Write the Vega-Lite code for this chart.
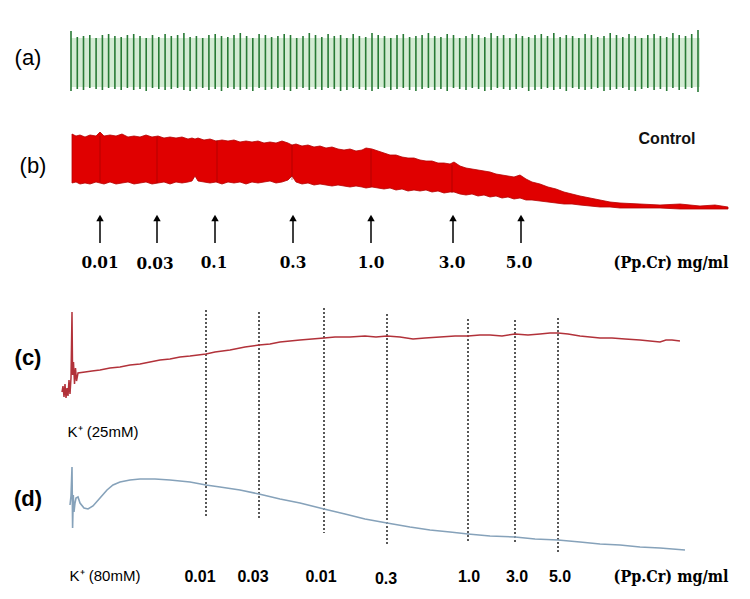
{
"$schema":"https://vega.github.io/schema/vega-lite/v6.json",
"width":750,"height":599,
"autosize":{"type":"fit","contains":"padding"},
"padding":0,
"background":"white",
"config":{"view":{"stroke":null}},
"datasets":{
"abg":[{"t":71,"t2":700,"hi":38,"lo":87}],
"a":[
{"t":71.0,"hi":31,"lo":91},{"t":77.3,"hi":37,"lo":89},{"t":83.5,"hi":36,"lo":90},{"t":89.8,"hi":35,"lo":88},{"t":96.1,"hi":38,"lo":89},{"t":102.4,"hi":35,"lo":90},{"t":108.6,"hi":34,"lo":88},{"t":114.9,"hi":36,"lo":89},{"t":121.2,"hi":37,"lo":90},{"t":127.4,"hi":35,"lo":88},{"t":133.7,"hi":34,"lo":90},{"t":140.0,"hi":36,"lo":89},{"t":146.2,"hi":38,"lo":91},{"t":152.5,"hi":35,"lo":88},{"t":158.8,"hi":37,"lo":89},{"t":165.1,"hi":34,"lo":90},{"t":171.3,"hi":36,"lo":89},{"t":177.6,"hi":35,"lo":88},{"t":183.9,"hi":33,"lo":90},{"t":190.1,"hi":37,"lo":91},{"t":196.4,"hi":36,"lo":89},{"t":202.7,"hi":38,"lo":88},{"t":208.9,"hi":35,"lo":90},{"t":215.2,"hi":34,"lo":89},{"t":221.5,"hi":36,"lo":91},{"t":227.8,"hi":37,"lo":88},{"t":234.0,"hi":35,"lo":89},{"t":240.3,"hi":33,"lo":90},{"t":246.6,"hi":36,"lo":89},{"t":252.8,"hi":38,"lo":91},{"t":259.1,"hi":34,"lo":88},{"t":265.4,"hi":35,"lo":90},{"t":271.6,"hi":37,"lo":89},{"t":277.9,"hi":36,"lo":88},{"t":284.2,"hi":34,"lo":90},{"t":290.5,"hi":35,"lo":91},{"t":296.7,"hi":38,"lo":89},{"t":303.0,"hi":36,"lo":88},{"t":309.3,"hi":33,"lo":90},{"t":315.5,"hi":35,"lo":89},{"t":321.8,"hi":37,"lo":90},{"t":328.1,"hi":34,"lo":88},{"t":334.3,"hi":36,"lo":89},{"t":340.6,"hi":35,"lo":91},{"t":346.9,"hi":38,"lo":90},{"t":353.2,"hi":34,"lo":88},{"t":359.4,"hi":36,"lo":89},{"t":365.7,"hi":37,"lo":90},{"t":372.0,"hi":33,"lo":91},{"t":378.2,"hi":35,"lo":89},{"t":384.5,"hi":36,"lo":88},{"t":390.8,"hi":38,"lo":90},{"t":397.0,"hi":35,"lo":89},{"t":403.3,"hi":34,"lo":88},{"t":409.6,"hi":37,"lo":90},{"t":415.9,"hi":36,"lo":91},{"t":422.1,"hi":35,"lo":89},{"t":428.4,"hi":33,"lo":88},{"t":434.7,"hi":36,"lo":90},{"t":440.9,"hi":37,"lo":89},{"t":447.2,"hi":34,"lo":91},{"t":453.5,"hi":35,"lo":88},{"t":459.7,"hi":38,"lo":89},{"t":466.0,"hi":36,"lo":90},{"t":472.3,"hi":34,"lo":88},{"t":478.6,"hi":35,"lo":89},{"t":484.8,"hi":37,"lo":91},{"t":491.1,"hi":33,"lo":90},{"t":497.4,"hi":36,"lo":88},{"t":503.6,"hi":35,"lo":89},{"t":509.9,"hi":38,"lo":90},{"t":516.2,"hi":34,"lo":89},{"t":522.4,"hi":36,"lo":88},{"t":528.7,"hi":37,"lo":91},{"t":535.0,"hi":35,"lo":90},{"t":541.3,"hi":34,"lo":89},{"t":547.5,"hi":36,"lo":88},{"t":553.8,"hi":33,"lo":90},{"t":560.1,"hi":37,"lo":89},{"t":566.3,"hi":35,"lo":91},{"t":572.6,"hi":36,"lo":88},{"t":578.9,"hi":38,"lo":89},{"t":585.1,"hi":34,"lo":90},{"t":591.4,"hi":35,"lo":89},{"t":597.7,"hi":37,"lo":88},{"t":604.0,"hi":36,"lo":91},{"t":610.2,"hi":33,"lo":90},{"t":616.5,"hi":35,"lo":89},{"t":622.8,"hi":37,"lo":88},{"t":629.0,"hi":34,"lo":90},{"t":635.3,"hi":36,"lo":91},{"t":641.6,"hi":38,"lo":89},{"t":647.8,"hi":35,"lo":88},{"t":654.1,"hi":34,"lo":90},{"t":660.4,"hi":36,"lo":89},{"t":666.7,"hi":37,"lo":91},{"t":672.9,"hi":33,"lo":88},{"t":679.2,"hi":35,"lo":90},{"t":685.5,"hi":36,"lo":89},{"t":691.7,"hi":34,"lo":88},{"t":698.0,"hi":30,"lo":92}
],
"b":[
{"t":72,"top":134,"bot":183},{"t":76,"top":136,"bot":182},{"t":80,"top":135,"bot":184},{"t":85,"top":137,"bot":183},{"t":90,"top":135,"bot":184},{"t":96,"top":136,"bot":182},{"t":100,"top":132,"bot":183},{"t":104,"top":136,"bot":184},{"t":110,"top":135,"bot":182},{"t":116,"top":136,"bot":184},{"t":122,"top":134,"bot":183},{"t":128,"top":137,"bot":182},{"t":134,"top":136,"bot":184},{"t":140,"top":137,"bot":183},{"t":146,"top":135,"bot":182},{"t":152,"top":137,"bot":184},{"t":158,"top":136,"bot":183},{"t":164,"top":138,"bot":182},{"t":170,"top":137,"bot":184},{"t":176,"top":138,"bot":182},{"t":182,"top":137,"bot":183},{"t":188,"top":139,"bot":182},{"t":192,"top":138,"bot":181},{"t":195,"top":139,"bot":176},{"t":198,"top":138,"bot":181},{"t":204,"top":140,"bot":182},{"t":210,"top":139,"bot":183},{"t":216,"top":141,"bot":182},{"t":222,"top":140,"bot":184},{"t":228,"top":141,"bot":182},{"t":234,"top":140,"bot":183},{"t":240,"top":142,"bot":182},{"t":246,"top":141,"bot":184},{"t":252,"top":142,"bot":182},{"t":258,"top":141,"bot":183},{"t":264,"top":143,"bot":182},{"t":270,"top":142,"bot":181},{"t":276,"top":143,"bot":183},{"t":282,"top":141,"bot":182},{"t":288,"top":143,"bot":180},{"t":292,"top":145,"bot":176},{"t":296,"top":144,"bot":182},{"t":302,"top":146,"bot":184},{"t":308,"top":145,"bot":183},{"t":314,"top":147,"bot":185},{"t":320,"top":146,"bot":184},{"t":326,"top":148,"bot":185},{"t":332,"top":147,"bot":186},{"t":338,"top":149,"bot":185},{"t":344,"top":150,"bot":186},{"t":350,"top":149,"bot":187},{"t":356,"top":151,"bot":186},{"t":362,"top":150,"bot":187},{"t":366,"top":148,"bot":188},{"t":372,"top":149,"bot":187},{"t":378,"top":151,"bot":188},{"t":384,"top":153,"bot":189},{"t":390,"top":155,"bot":188},{"t":396,"top":155,"bot":190},{"t":402,"top":157,"bot":189},{"t":408,"top":158,"bot":191},{"t":414,"top":158,"bot":190},{"t":420,"top":160,"bot":191},{"t":426,"top":161,"bot":190},{"t":432,"top":161,"bot":192},{"t":438,"top":163,"bot":191},{"t":444,"top":163,"bot":193},{"t":450,"top":164,"bot":192},{"t":454,"top":162,"bot":192},{"t":460,"top":166,"bot":194},{"t":466,"top":168,"bot":195},{"t":472,"top":169,"bot":194},{"t":478,"top":170,"bot":196},{"t":484,"top":171,"bot":195},{"t":490,"top":172,"bot":197},{"t":496,"top":174,"bot":196},{"t":502,"top":175,"bot":198},{"t":508,"top":176,"bot":197},{"t":514,"top":177,"bot":199},{"t":520,"top":175,"bot":198},{"t":526,"top":179,"bot":200},{"t":532,"top":182,"bot":200},{"t":540,"top":184,"bot":201},{"t":548,"top":187,"bot":202},{"t":556,"top":189,"bot":203},{"t":564,"top":192,"bot":204},{"t":572,"top":194,"bot":204},{"t":580,"top":196,"bot":205},{"t":590,"top":198,"bot":206},{"t":600,"top":200,"bot":207},{"t":610,"top":202,"bot":207},{"t":620,"top":203,"bot":208},{"t":640,"top":204,"bot":208},{"t":660,"top":205,"bot":208},{"t":680,"top":204,"bot":209},{"t":700,"top":206,"bot":209},{"t":715,"top":205,"bot":209},{"t":728,"top":207,"bot":209}
],
"bmarks":[{"t":100,"top":136,"bot":182},{"t":157,"top":137,"bot":183},{"t":217,"top":140,"bot":182},{"t":292,"top":145,"bot":180},{"t":371,"top":150,"bot":187},{"t":452,"top":165,"bot":193}],
"arrows":[{"t":100,"dose":"0.01"},{"t":157,"dose":"0.03"},{"t":215,"dose":"0.1"},{"t":293,"dose":"0.3"},{"t":371,"dose":"1.0"},{"t":453,"dose":"3.0"},{"t":521,"dose":"5.0"}],
"c":[
{"t":62,"v":392},{"t":63,"v":386},{"t":64,"v":397},{"t":65,"v":384},{"t":66,"v":398},{"t":67,"v":388},{"t":68,"v":396},{"t":69,"v":380},{"t":70,"v":394},{"t":71,"v":378},{"t":72,"v":312},{"t":72.6,"v":375},{"t":73.5,"v":362},{"t":74.5,"v":384},{"t":75.5,"v":368},{"t":76.5,"v":381},{"t":78,"v":373},{"t":85,"v":372},{"t":92,"v":371},{"t":100,"v":370},{"t":110,"v":368},{"t":120,"v":367},{"t":130,"v":365},{"t":140,"v":364},{"t":150,"v":362},{"t":160,"v":360},{"t":170,"v":359},{"t":180,"v":357},{"t":190,"v":356},{"t":206,"v":354},{"t":215,"v":352},{"t":230,"v":350},{"t":245,"v":347},{"t":259,"v":345},{"t":270,"v":344},{"t":280,"v":342},{"t":290,"v":341},{"t":300,"v":340},{"t":312,"v":339},{"t":324,"v":338},{"t":335,"v":337},{"t":350,"v":337},{"t":365,"v":336},{"t":376,"v":337},{"t":387,"v":336},{"t":400,"v":337},{"t":413,"v":339},{"t":425,"v":338},{"t":440,"v":337},{"t":455,"v":336},{"t":468,"v":336},{"t":480,"v":335},{"t":490,"v":335},{"t":502,"v":336},{"t":515,"v":334},{"t":528,"v":335},{"t":540,"v":334},{"t":550,"v":333},{"t":558,"v":333},{"t":568,"v":334},{"t":580,"v":336},{"t":590,"v":337},{"t":600,"v":338},{"t":612,"v":338},{"t":625,"v":339},{"t":640,"v":340},{"t":650,"v":341},{"t":660,"v":342},{"t":666,"v":340},{"t":672,"v":340},{"t":680,"v":341}
],
"d":[
{"t":70,"v":505},{"t":71,"v":496},{"t":72,"v":467},{"t":72.6,"v":528},{"t":73.3,"v":495},{"t":74,"v":512},{"t":75,"v":503},{"t":76,"v":498},{"t":78,"v":497},{"t":80,"v":503},{"t":84,"v":508},{"t":88,"v":509},{"t":93,"v":506},{"t":100,"v":498},{"t":107,"v":490},{"t":113,"v":485},{"t":120,"v":482},{"t":130,"v":480},{"t":140,"v":479},{"t":155,"v":479},{"t":170,"v":480},{"t":190,"v":482},{"t":206,"v":485},{"t":220,"v":487},{"t":240,"v":490},{"t":259,"v":494},{"t":280,"v":499},{"t":300,"v":503},{"t":324,"v":509},{"t":345,"v":514},{"t":365,"v":519},{"t":387,"v":523},{"t":410,"v":527},{"t":430,"v":530},{"t":450,"v":532},{"t":468,"v":534},{"t":490,"v":536},{"t":515,"v":537},{"t":535,"v":539},{"t":558,"v":540},{"t":580,"v":542},{"t":600,"v":544},{"t":620,"v":545},{"t":640,"v":547},{"t":660,"v":548},{"t":685,"v":550}
],
"dots":[{"t":206,"top":310,"bot":517},{"t":259,"top":312,"bot":518},{"t":324,"top":308,"bot":533},{"t":387,"top":314,"bot":545},{"t":468,"top":319,"bot":543},{"t":515,"top":320,"bot":543},{"t":558,"top":318,"bot":553}],
"labels":[
{"t":28,"y":58,"text":"(a)","kind":"panel"},
{"t":33,"y":166,"text":"(b)","kind":"panel"},
{"t":28,"y":358,"text":"(c)","kind":"panelb"},
{"t":28,"y":499,"text":"(d)","kind":"panelb"},
{"t":667,"y":139,"text":"Control","kind":"control"},
{"t":100,"y":263,"text":"0.01","kind":"top"},
{"t":155,"y":264,"text":"0.03","kind":"top"},
{"t":214,"y":263,"text":"0.1","kind":"top"},
{"t":293,"y":263,"text":"0.3","kind":"top"},
{"t":371,"y":263,"text":"1.0","kind":"top"},
{"t":452,"y":263,"text":"3.0","kind":"top"},
{"t":519,"y":263,"text":"5.0","kind":"top"},
{"t":671,"y":263,"text":"(Pp.Cr) mg/ml","kind":"unit"},
{"t":103,"y":432,"text":"K⁺ (25mM)","kind":"k"},
{"t":105,"y":576,"text":"K⁺ (80mM)","kind":"k"},
{"t":200,"y":577,"text":"0.01","kind":"bot"},
{"t":253,"y":577,"text":"0.03","kind":"bot"},
{"t":321,"y":577,"text":"0.01","kind":"bot"},
{"t":386,"y":579,"text":"0.3","kind":"bot"},
{"t":469,"y":577,"text":"1.0","kind":"bot"},
{"t":517,"y":577,"text":"3.0","kind":"bot"},
{"t":560,"y":577,"text":"5.0","kind":"bot"},
{"t":671,"y":577,"text":"(Pp.Cr) mg/ml","kind":"unit"}
]
},
"layer":[
{"data":{"name":"abg"},"mark":{"type":"rect","color":"#d3ebd3"},
 "encoding":{"x":{"field":"t","type":"quantitative","scale":{"domain":[0,750],"nice":false,"zero":false},"axis":null},"x2":{"field":"t2"},
 "y":{"field":"hi","type":"quantitative","scale":{"domain":[599,0],"nice":false,"zero":false},"axis":null},"y2":{"field":"lo"}}},
{"data":{"name":"a"},"mark":{"type":"rule","color":"#287a35","strokeWidth":1.6},
 "encoding":{"x":{"field":"t","type":"quantitative"},"y":{"field":"hi","type":"quantitative"},"y2":{"field":"lo"}}},
{"data":{"name":"b"},"mark":{"type":"area","color":"#e00000","stroke":"#b50000","strokeWidth":0.8},
 "encoding":{"x":{"field":"t","type":"quantitative"},"y":{"field":"top","type":"quantitative"},"y2":{"field":"bot"}}},
{"data":{"name":"bmarks"},"mark":{"type":"rule","color":"#8a0000","strokeWidth":1,"opacity":0.5},
 "encoding":{"x":{"field":"t","type":"quantitative"},"y":{"field":"top","type":"quantitative"},"y2":{"field":"bot"}}},
{"data":{"name":"arrows"},"mark":{"type":"rule","color":"#000000","strokeWidth":1.5},
 "encoding":{"x":{"field":"t","type":"quantitative"},"y":{"datum":243},"y2":{"datum":221}}},
{"data":{"name":"arrows"},"mark":{"type":"point","shape":"triangle-up","filled":true,"color":"#000000","size":55,"opacity":1},
 "encoding":{"x":{"field":"t","type":"quantitative"},"y":{"datum":218}}},
{"data":{"name":"dots"},"mark":{"type":"rule","color":"#222222","strokeWidth":1.5,"strokeDash":[2,2]},
 "encoding":{"x":{"field":"t","type":"quantitative"},"y":{"field":"top","type":"quantitative"},"y2":{"field":"bot"}}},
{"data":{"name":"c"},"mark":{"type":"line","color":"#b2323a","strokeWidth":1.5},
 "encoding":{"x":{"field":"t","type":"quantitative"},"y":{"field":"v","type":"quantitative"},"order":{"field":"t"}}},
{"data":{"name":"d"},"mark":{"type":"line","color":"#86a2ba","strokeWidth":1.6},
 "encoding":{"x":{"field":"t","type":"quantitative"},"y":{"field":"v","type":"quantitative"},"order":{"field":"t"}}},
{"data":{"name":"labels"},"transform":[{"filter":"datum.kind==='panel'"}],
 "mark":{"type":"text","font":"Liberation Sans","fontSize":22,"color":"#000","align":"center","baseline":"middle"},
 "encoding":{"x":{"field":"t","type":"quantitative"},"y":{"field":"y","type":"quantitative"},"text":{"field":"text"}}},
{"data":{"name":"labels"},"transform":[{"filter":"datum.kind==='panelb'"}],
 "mark":{"type":"text","font":"Liberation Sans","fontSize":22,"fontWeight":"bold","color":"#000","align":"center","baseline":"middle"},
 "encoding":{"x":{"field":"t","type":"quantitative"},"y":{"field":"y","type":"quantitative"},"text":{"field":"text"}}},
{"data":{"name":"labels"},"transform":[{"filter":"datum.kind==='control'"}],
 "mark":{"type":"text","font":"Liberation Sans","fontSize":16,"fontWeight":"bold","color":"#111","align":"center","baseline":"middle"},
 "encoding":{"x":{"field":"t","type":"quantitative"},"y":{"field":"y","type":"quantitative"},"text":{"field":"text"}}},
{"data":{"name":"labels"},"transform":[{"filter":"datum.kind==='top'"}],
 "mark":{"type":"text","font":"DejaVu Serif Condensed, Liberation Serif","fontSize":17,"fontWeight":"bold","color":"#000","align":"center","baseline":"middle"},
 "encoding":{"x":{"field":"t","type":"quantitative"},"y":{"field":"y","type":"quantitative"},"text":{"field":"text"}}},
{"data":{"name":"labels"},"transform":[{"filter":"datum.kind==='unit'"}],
 "mark":{"type":"text","font":"DejaVu Serif Condensed, Liberation Serif","fontSize":16,"fontWeight":"bold","color":"#000","align":"center","baseline":"middle"},
 "encoding":{"x":{"field":"t","type":"quantitative"},"y":{"field":"y","type":"quantitative"},"text":{"field":"text"}}},
{"data":{"name":"labels"},"transform":[{"filter":"datum.kind==='k'"}],
 "mark":{"type":"text","font":"Liberation Sans","fontSize":15,"color":"#000","align":"center","baseline":"middle"},
 "encoding":{"x":{"field":"t","type":"quantitative"},"y":{"field":"y","type":"quantitative"},"text":{"field":"text"}}},
{"data":{"name":"labels"},"transform":[{"filter":"datum.kind==='bot'"}],
 "mark":{"type":"text","font":"Liberation Sans","fontSize":16,"fontWeight":"bold","color":"#000","align":"center","baseline":"middle"},
 "encoding":{"x":{"field":"t","type":"quantitative"},"y":{"field":"y","type":"quantitative"},"text":{"field":"text"}}}
]
}
